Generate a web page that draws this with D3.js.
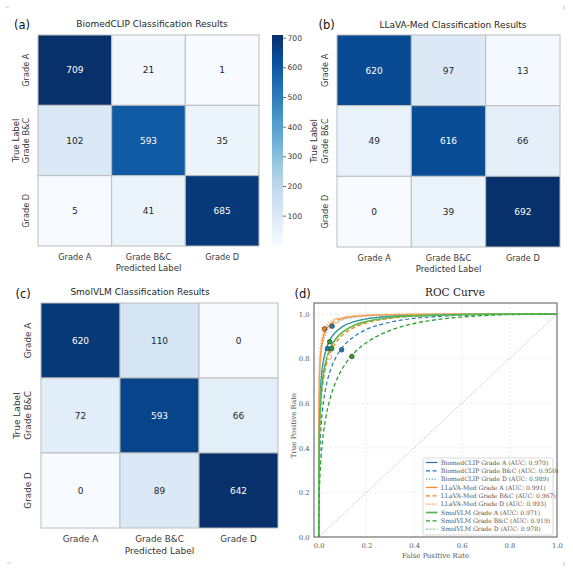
<!DOCTYPE html>
<html><head><meta charset="utf-8">
<script src="https://cdn.jsdelivr.net/npm/d3@7"></script>
<style>body{margin:0;background:#fff}svg{display:block}</style>
</head><body>
<svg id="chart" width="573" height="573"></svg>
<script>
// ---------------- DATA ----------------
const classes = ["Grade A", "Grade B&C", "Grade D"];
const biomedMatrix = [[709, 21, 1], [102, 593, 35], [5, 41, 685]];
const llavaMatrix  = [[620, 97, 13], [49, 616, 66], [0, 39, 692]];
const smolMatrix   = [[620, 110, 0], [72, 593, 66], [0, 89, 642]];
const colorbarTicks = [100, 200, 300, 400, 500, 600, 700];

const rocFpr = [0, 0.0005, 0.001, 0.002, 0.005, 0.01, 0.02, 0.03, 0.05, 0.07, 0.1, 0.15, 0.2, 0.3, 0.4, 0.5, 0.6, 0.7, 0.8, 0.9, 1.0];
const biomedA_tpr  = [0,0.339,0.416,0.500,0.618,0.709,0.795,0.840,0.891,0.919,0.945,0.967,0.979,0.991,0.996,0.998,0.999,1,1,1,1];
const biomedBC_tpr = [0,0.167,0.222,0.290,0.401,0.500,0.607,0.672,0.752,0.802,0.852,0.901,0.931,0.964,0.981,0.990,0.995,0.998,0.999,1,1];
const biomedD_tpr  = [0,0.479,0.559,0.641,0.746,0.819,0.882,0.913,0.945,0.961,0.975,0.986,0.992,0.997,0.999,0.999,1,1,1,1,1];
const llavaA_tpr   = [0,0.522,0.601,0.680,0.779,0.846,0.902,0.929,0.956,0.969,0.981,0.990,0.994,0.998,0.999,1,1,1,1,1,1];
const llavaBC_tpr  = [0,0.244,0.312,0.390,0.509,0.608,0.707,0.764,0.830,0.869,0.906,0.941,0.961,0.981,0.991,0.995,0.998,0.999,1,1,1];
const llavaD_tpr   = [0,0.573,0.650,0.725,0.816,0.875,0.922,0.945,0.966,0.977,0.986,0.993,0.996,0.998,0.999,1,1,1,1,1,1];
const smolA_tpr    = [0,0.271,0.341,0.422,0.542,0.639,0.735,0.788,0.850,0.886,0.919,0.950,0.967,0.985,0.992,0.996,0.998,0.999,1,1,1];
const smolBC_tpr   = [0,0.094,0.133,0.184,0.275,0.364,0.469,0.538,0.630,0.692,0.757,0.827,0.872,0.927,0.958,0.976,0.987,0.994,0.998,0.999,1];
const smolD_tpr    = [0,0.329,0.404,0.488,0.607,0.699,0.786,0.833,0.886,0.915,0.941,0.965,0.978,0.990,0.995,0.998,0.999,1,1,1,1];
const rocLabels = [
  "BiomedCLIP Grade A (AUC: 0.979)", "BiomedCLIP Grade B&C (AUC: 0.950)", "BiomedCLIP Grade D (AUC: 0.989)",
  "LLaVA-Med Grade A (AUC: 0.991)", "LLaVA-Med Grade B&C (AUC: 0.967)", "LLaVA-Med Grade D (AUC: 0.993)",
  "SmolVLM Grade A (AUC: 0.971)", "SmolVLM Grade B&C (AUC: 0.919)", "SmolVLM Grade D (AUC: 0.978)"
];
const markerFpr = [0.024, 0.056, 0.073, 0.046, 0.037, 0.054, 0.044, 0.096, 0.139];
const markerTpr = [0.934, 0.946, 0.969, 0.876, 0.846, 0.846, 0.808, 0.840, 0.810];
const rocTicks = [0, 0.2, 0.4, 0.6, 0.8, 1.0];

// ---------------- STYLE / LAYOUT ----------------
const blues = ["#f7fbff","#deebf7","#c6dbef","#9ecae1","#6baed6","#4292c6","#2171b5","#08519c","#08306b"];
const SANS = "DejaVu Sans, Verdana, sans-serif";
const SERIF = "DejaVu Serif, serif";
const svg = d3.select("#chart");

function luminance(c) {
  const rgb = d3.rgb(c);
  const f = v => { v /= 255; return v <= 0.03928 ? v / 12.92 : Math.pow((v + 0.055) / 1.055, 2.4); };
  return 0.2126 * f(rgb.r) + 0.7152 * f(rgb.g) + 0.0722 * f(rgb.b);
}

function heatmap(matrix, L) {
  const flat = matrix.flat();
  const mn = d3.min(flat), mx = d3.max(flat);
  const color = d3.scaleLinear()
    .domain(blues.map((_, i) => mn + i * (mx - mn) / (blues.length - 1)))
    .range(blues).interpolate(d3.interpolateRgb).clamp(true);
  const x = d3.scaleBand().domain(d3.range(3)).range([L.x0, L.x1]);
  const y = d3.scaleBand().domain(d3.range(3)).range([L.y0, L.y1]);
  const g = svg.append("g");
  matrix.forEach((row, i) => row.forEach((v, j) => {
    const c = color(v);
    g.append("rect").attr("x", x(j)).attr("y", y(i))
      .attr("width", x.bandwidth()).attr("height", y.bandwidth())
      .attr("fill", c).attr("stroke", "#bdbdbd").attr("stroke-width", 1);
    g.append("text").attr("x", x(j) + x.bandwidth() / 2).attr("y", y(i) + y.bandwidth() / 2)
      .attr("dy", "0.36em").attr("text-anchor", "middle")
      .attr("font-family", SANS).attr("font-size", L.annot)
      .attr("fill", luminance(c) > 0.408 ? "#262626" : "#ffffff").text(v);
  }));
  classes.forEach((c, j) => {
    g.append("text").attr("x", x(j) + x.bandwidth() / 2).attr("y", L.xtickY)
      .attr("text-anchor", "middle").attr("font-family", SANS).attr("font-size", L.tick)
      .attr("fill", "#3a3a3a").text(c);
    g.append("text")
      .attr("transform", `translate(${L.ytickX},${y(j) + y.bandwidth() / 2}) rotate(-90)`)
      .attr("text-anchor", "middle").attr("font-family", SANS).attr("font-size", L.tick)
      .attr("fill", "#3a3a3a").text(c);
  });
  g.append("text").attr("x", (L.x0 + L.x1) / 2).attr("y", L.xlabelY)
    .attr("text-anchor", "middle").attr("font-family", SANS).attr("font-size", L.label)
    .attr("fill", "#333").text("Predicted Label");
  g.append("text")
    .attr("transform", `translate(${L.ylabelX},${(L.y0 + L.y1) / 2}) rotate(-90)`)
    .attr("text-anchor", "middle").attr("font-family", SANS).attr("font-size", L.label)
    .attr("fill", "#333").text("True Label");
  g.append("text").attr("x", L.titleX).attr("y", L.titleY).attr("text-anchor", "middle")
    .attr("font-family", SANS).attr("font-size", L.title).attr("fill", "#262626").text(L.titleText);
  g.append("text").attr("x", L.tagX).attr("y", L.tagY)
    .attr("font-family", SANS).attr("font-size", 11.5).attr("fill", "#111").text(L.tag);
  return { color, mn, mx };
}

const a = heatmap(biomedMatrix, { x0: 38, x1: 259, y0: 35, y1: 246, annot: 9, tick: 8.2, label: 8.5, title: 9,
  xtickY: 259.5, xlabelY: 270.5, ytickX: 29, ylabelX: 19, titleX: 152, titleY: 27, titleText: "BiomedCLIP Classification Results",
  tagX: 14, tagY: 28.5, tag: "(a)" });
heatmap(llavaMatrix, { x0: 337, x1: 560, y0: 35, y1: 247, annot: 9, tick: 8.2, label: 8.5, title: 9,
  xtickY: 260.5, xlabelY: 271.5, ytickX: 328, ylabelX: 317, titleX: 453, titleY: 27.5, titleText: "LLaVA-Med Classification Results",
  tagX: 318.5, tagY: 28.5, tag: "(b)" });
heatmap(smolMatrix, { x0: 41, x1: 278, y0: 303, y1: 528, annot: 9, tick: 8.8, label: 9, title: 9,
  xtickY: 542, xlabelY: 554, ytickX: 31, ylabelX: 19.5, titleX: 140, titleY: 295, titleText: "SmolVLM Classification Results",
  tagX: 15.5, tagY: 297.5, tag: "(c)" });

// colorbar for (a)
(function () {
  const cb = { x: 272, w: 11, y0: 35, y1: 245 };
  const ys = d3.scaleLinear().domain([a.mn, a.mx]).range([cb.y1, cb.y0]);
  const defs = svg.append("defs");
  const grad = defs.append("linearGradient").attr("id", "cbgrad")
    .attr("x1", 0).attr("y1", 1).attr("x2", 0).attr("y2", 0);
  blues.forEach((c, i) => grad.append("stop").attr("offset", i / (blues.length - 1)).attr("stop-color", c));
  svg.append("rect").attr("x", cb.x).attr("y", cb.y0).attr("width", cb.w).attr("height", cb.y1 - cb.y0)
    .attr("fill", "url(#cbgrad)");
  const ax = d3.axisRight(ys).tickValues(colorbarTicks).tickSize(3).tickPadding(1.5);
  const gax = svg.append("g").attr("transform", `translate(${cb.x + cb.w},0)`).call(ax);
  gax.select(".domain").remove();
  gax.selectAll("line").attr("stroke", "#444").attr("stroke-width", 0.8);
  gax.selectAll("text").attr("font-family", SANS).attr("font-size", 7.6).attr("fill", "#3a3a3a");
})();

// ---------------- ROC (d) ----------------
(function () {
  const F = { x0: 314, x1: 557, y0: 303, y1: 537 };
  const x = d3.scaleLinear().domain([-0.02, 1.0]).range([F.x0, F.x1]);
  const y = d3.scaleLinear().domain([0, 1.05]).range([F.y1, F.y0]);
  const g = svg.append("g");
  g.append("rect").attr("x", F.x0).attr("y", F.y0).attr("width", F.x1 - F.x0).attr("height", F.y1 - F.y0).attr("fill", "#fff");
  // grid
  rocTicks.forEach(t => {
    g.append("line").attr("x1", x(t)).attr("x2", x(t)).attr("y1", F.y0).attr("y2", F.y1)
      .attr("stroke", "#e3e3e3").attr("stroke-width", 0.7).attr("stroke-dasharray", "2,2");
    g.append("line").attr("y1", y(t)).attr("y2", y(t)).attr("x1", F.x0).attr("x2", F.x1)
      .attr("stroke", "#e3e3e3").attr("stroke-width", 0.7).attr("stroke-dasharray", "2,2");
  });
  // diagonal
  g.append("line").attr("x1", x(0)).attr("y1", y(0)).attr("x2", x(1)).attr("y2", y(1))
    .attr("stroke", "#b0b0b0").attr("stroke-width", 0.8).attr("stroke-dasharray", "1.2,1.2");

  const series = [biomedA_tpr, biomedBC_tpr, biomedD_tpr, llavaA_tpr, llavaBC_tpr, llavaD_tpr, smolA_tpr, smolBC_tpr, smolD_tpr];
  const styles = [
    { c: "#1f77b4", w: 1.2, d: null },
    { c: "#1f77b4", w: 1.2, d: "4,2.6" },
    { c: "#8dbfe2", w: 1.6, d: "1.4,1.4" },
    { c: "#ff8a25", w: 1.3, d: null },
    { c: "#ff7f0e", w: 1.3, d: "4,2.6" },
    { c: "#ffb273", w: 1.6, d: "1.4,1.4" },
    { c: "#55b855", w: 1.7, d: null },
    { c: "#2ca02c", w: 1.3, d: "4,2.6" },
    { c: "#5cbf5c", w: 1.0, d: "2,1.5" }
  ];
  const line = d3.line().x((d, i) => x(rocFpr[i])).y(d => y(d)).curve(d3.curveMonotoneX);
  series.forEach((s, k) => {
    g.append("path").datum(s).attr("d", line).attr("fill", "none")
      .attr("stroke", styles[k].c).attr("stroke-width", styles[k].w)
      .attr("stroke-dasharray", styles[k].d);
  });
  const markerStyle = [
    { f: "#ff7f0e", s: "#333" }, { f: "#1f77b4", s: "#333" }, { f: "#ffffff", s: "#ff7f0e" },
    { f: "#2ca02c", s: "#333" }, { f: "#1f77b4", s: "#333" }, { f: "#2ca02c", s: "#333" },
    { f: "#ffffff", s: "#ff7f0e" }, { f: "#1f77b4", s: "#333" }, { f: "#2ca02c", s: "#333" }
  ];
  markerFpr.forEach((fx, i) => {
    g.append("circle").attr("cx", x(fx)).attr("cy", y(markerTpr[i])).attr("r", 2.3)
      .attr("fill", markerStyle[i].f).attr("stroke", markerStyle[i].s).attr("stroke-width", 0.7);
  });
  // frame
  g.append("rect").attr("x", F.x0).attr("y", F.y0).attr("width", F.x1 - F.x0).attr("height", F.y1 - F.y0)
    .attr("fill", "none").attr("stroke", "#666").attr("stroke-width", 1.1);
  // ticks
  const xa = svg.append("g").attr("transform", `translate(0,${F.y1})`)
    .call(d3.axisBottom(x).tickValues(rocTicks).tickFormat(d3.format(".1f")).tickSize(0).tickPadding(6));
  const ya = svg.append("g").attr("transform", `translate(${F.x0},0)`)
    .call(d3.axisLeft(y).tickValues(rocTicks).tickFormat(d3.format(".1f")).tickSize(0).tickPadding(4.5));
  [xa, ya].forEach(ax => {
    ax.select(".domain").remove();
    ax.selectAll("text").attr("font-family", SERIF).attr("font-size", 6.8).attr("fill", "#555");
  });
  svg.append("text").attr("x", (F.x0 + F.x1) / 2).attr("y", 557.5).attr("text-anchor", "middle")
    .attr("font-family", SERIF).attr("font-size", 7).attr("fill", "#555").text("False Positive Rate");
  svg.append("text").attr("transform", `translate(296,${(y(0) + y(1)) / 2}) rotate(-90)`)
    .attr("text-anchor", "middle").attr("font-family", SERIF).attr("font-size", 7).attr("fill", "#555").text("True Positive Rate");
  svg.append("text").attr("x", 455).attr("y", 296).attr("text-anchor", "middle")
    .attr("font-family", SERIF).attr("font-size", 10.5).attr("fill", "#222").text("ROC Curve");
  svg.append("text").attr("x", 294.5).attr("y", 297.5)
    .attr("font-family", SANS).attr("font-size", 11.5).attr("fill", "#111").text("(d)");

  // legend
  const Lg = { x: 423, y: 458, w: 130, h: 77, row: 8.33, first: 462.5 };
  svg.append("rect").attr("x", Lg.x).attr("y", Lg.y).attr("width", Lg.w).attr("height", Lg.h)
    .attr("rx", 1.5).attr("fill", "#fff").attr("fill-opacity", 0.85).attr("stroke", "#cfcfcf").attr("stroke-width", 0.8);
  rocLabels.forEach((lab, k) => {
    const yy = Lg.first + k * Lg.row;
    svg.append("line").attr("x1", 426).attr("x2", 437.5).attr("y1", yy).attr("y2", yy)
      .attr("stroke", styles[k].c).attr("stroke-width", styles[k].w).attr("stroke-dasharray", styles[k].d);
    svg.append("text").attr("x", 441).attr("y", yy).attr("dy", "0.35em")
      .attr("font-family", SERIF).attr("font-size", 6.05).attr("fill", "#555").text(lab);
  });
})();

// corner crop marks
[[5, 7, 9, 7], [564, 5, 564, 10], [7, 563, 11, 563], [564, 562, 564, 566]].forEach(m => {
  svg.append("line").attr("x1", m[0]).attr("y1", m[1]).attr("x2", m[2]).attr("y2", m[3])
    .attr("stroke", "#bbb").attr("stroke-width", 0.8);
});
</script>
</body></html>
